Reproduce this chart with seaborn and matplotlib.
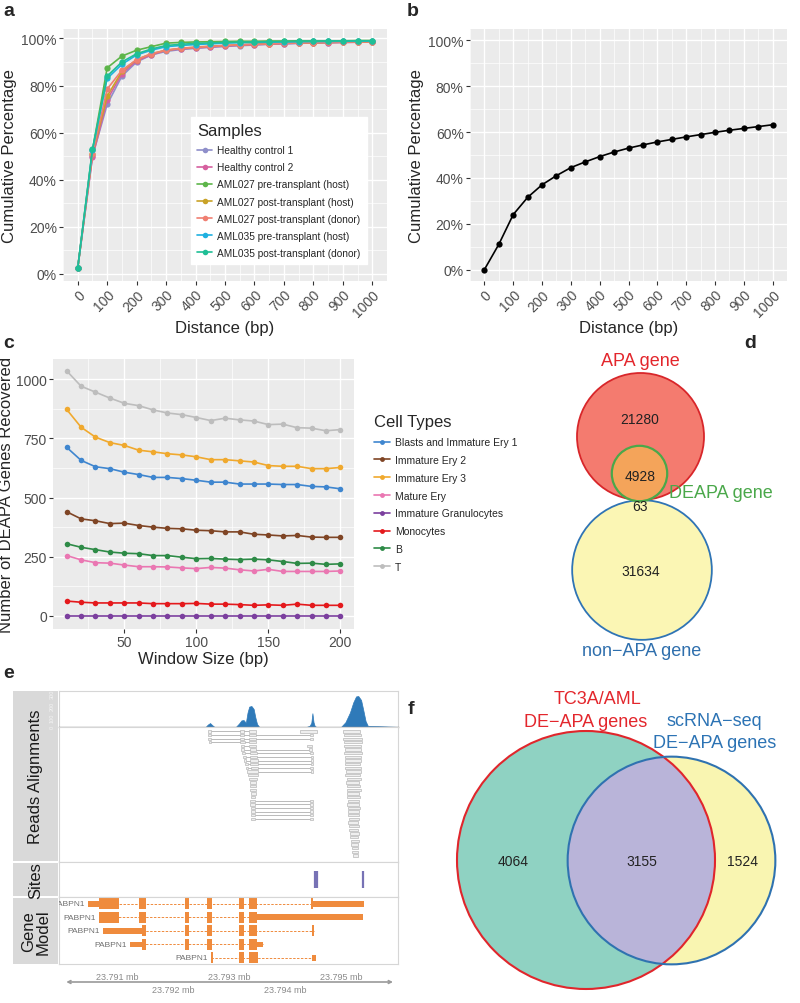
import numpy as np
import pandas as pd
import seaborn as sns
import matplotlib.pyplot as plt
from matplotlib.patches import Circle, Rectangle
from matplotlib.lines import Line2D
from matplotlib.ticker import MultipleLocator

sns.set_theme(style='darkgrid', rc={'axes.facecolor': '#EBEBEB', 'grid.color': 'white'})
plt.rcParams['font.family'] = ['Liberation Sans', 'DejaVu Sans']

# ---------------- data ----------------
# a: cumulative percentage of sites vs distance, per sample
distance = [0, 50, 100, 150, 200, 250, 300, 350, 400, 450, 500,
            550, 600, 650, 700, 750, 800, 850, 900, 950, 1000]
samples = ['Healthy control 1', 'Healthy control 2', 'AML027 pre-transplant (host)',
           'AML027 post-transplant (host)', 'AML027 post-transplant (donor)',
           'AML035 pre-transplant (host)', 'AML035 post-transplant (donor)']
sample_colors = ['#8f8fca', '#d6609f', '#5db54a', '#c9a227', '#f07f72', '#1fb0e0', '#1fbf96']
cum_hc1 = [2.5, 50, 72, 84, 90, 93, 94.5, 95.3, 95.8, 96.2, 96.6, 96.9, 97.2, 97.5, 97.7, 97.9, 98.1, 98.2, 98.3, 98.4, 98.5]
cum_hc2 = [2.5, 49.5, 74, 85, 90.5, 93, 95, 95.5, 96, 96.4, 96.8, 97.1, 97.4, 97.6, 97.8, 98, 98.1, 98.2, 98.3, 98.4, 98.5]
cum_027_pre = [2.5, 52.5, 87.5, 92.5, 95, 96.5, 98, 98.3, 98.5, 98.6, 98.7, 98.8, 98.8, 98.9, 98.9, 99, 99, 99, 99, 99.1, 99.1]
cum_027_post_host = [2.5, 51, 75.5, 86, 91, 93.5, 95, 95.8, 96.3, 96.7, 97, 97.3, 97.6, 97.8, 98, 98.1, 98.2, 98.3, 98.4, 98.5, 98.6]
cum_027_post_donor = [2.5, 51, 78.5, 86.5, 91, 93.5, 95, 95.8, 96.2, 96.6, 97, 97.3, 97.5, 97.7, 97.9, 98.1, 98.2, 98.3, 98.4, 98.5, 98.6]
cum_035_pre = [2.5, 52.5, 83, 89, 93, 95, 96.5, 97, 97.4, 97.7, 98, 98.2, 98.3, 98.4, 98.5, 98.6, 98.7, 98.7, 98.8, 98.8, 98.9]
cum_035_post = [2.5, 53, 84, 90, 93.5, 95.5, 97, 97.5, 97.9, 98.1, 98.3, 98.4, 98.5, 98.6, 98.7, 98.8, 98.8, 98.9, 98.9, 99, 99]

# b: one curve
cum_b = [0, 11, 24, 31.5, 37, 41, 44.5, 47, 49.3, 51.3, 53, 54.4, 55.7, 56.8, 57.9, 58.9, 59.9, 60.8, 61.6, 62.4, 63.2]

# c: DEAPA genes recovered vs window size
window = [10, 20, 30, 40, 50, 60, 70, 80, 90, 100, 110, 120, 130, 140, 150, 160, 170, 180, 190, 200]
cell_types = ['Blasts and Immature Ery 1', 'Immature Ery 2', 'Immature Ery 3', 'Mature Ery',
              'Immature Granulocytes', 'Monocytes', 'B', 'T']
cell_colors = ['#3f86cf', '#7f4525', '#f0a92e', '#ea77b2', '#7b3f9e', '#e4191c', '#2e8b47', '#bdbdbd']
n_blasts = [712, 657, 630, 622, 607, 597, 585, 585, 580, 573, 565, 565, 557, 557, 557, 555, 555, 547, 545, 537]
n_ery2 = [440, 410, 402, 390, 392, 382, 375, 370, 368, 362, 360, 355, 355, 345, 342, 338, 340, 333, 332, 332]
n_ery3 = [872, 797, 755, 732, 720, 700, 693, 685, 680, 672, 660, 660, 655, 650, 635, 632, 632, 622, 622, 627]
n_mature = [255, 237, 225, 223, 215, 208, 208, 207, 203, 200, 205, 202, 195, 190, 197, 188, 188, 188, 188, 190]
n_gran = [0, 0, 0, 0, 0, 0, 0, 0, 0, 0, 0, 0, 0, 0, 0, 0, 0, 0, 0, 0]
n_mono = [63, 58, 55, 55, 55, 55, 52, 52, 52, 53, 50, 50, 48, 45, 47, 45, 50, 45, 45, 45]
n_b = [305, 290, 280, 270, 265, 263, 255, 255, 248, 242, 243, 240, 238, 240, 237, 230, 222, 223, 218, 220]
n_t = [1035, 970, 945, 920, 898, 888, 870, 857, 850, 838, 825, 835, 828, 823, 808, 810, 795, 793, 782, 787]

# d: venn counts
apa_only, deapa_apa, deapa_non, non_only = 21280, 4928, 63, 31634

# e: gene track (positions in kb after 23,790 kb)
genome_ticks_kb = [1, 2, 3, 4, 5]
coverage_kb = [0.0, 2.58, 2.62, 2.66, 2.70, 2.74, 3.12, 3.18, 3.22, 3.26, 3.30, 3.33, 3.36,
               3.40, 3.44, 3.47, 3.50, 3.54, 4.38, 4.44, 4.47, 4.49, 4.51, 4.53, 4.56,
               5.00, 5.08, 5.16, 5.22, 5.27, 5.31, 5.36, 5.40, 5.44, 5.48, 6.1]
coverage_depth = [0, 0, 20, 33, 15, 0, 0, 30, 55, 58, 35, 120, 170, 175, 150, 80, 25, 0,
                  0, 10, 35, 115, 40, 10, 0,
                  0, 40, 120, 205, 255, 258, 225, 140, 50, 10, 0]
spliced_reads = [
    (0, [(2.62, 2.68), (3.20, 3.27), (3.36, 3.48)]),
    (0, [(4.27, 4.57)]),
    (1, [(2.62, 2.68), (3.20, 3.27), (3.36, 3.48), (4.45, 4.50)]),
    (2, [(2.62, 2.68), (3.20, 3.27), (3.36, 3.48), (4.45, 4.50)]),
    (3, [(2.64, 2.68), (3.20, 3.28), (3.36, 3.48)]),
    (4, [(3.21, 3.27), (3.36, 3.49)]),
    (4, [(4.40, 4.48)]),
    (5, [(3.21, 3.27), (3.37, 3.49), (4.43, 4.49)]),
    (6, [(3.23, 3.29), (3.37, 3.50), (4.45, 4.50)]),
    (7, [(3.25, 3.30), (3.38, 3.50), (4.46, 4.50)]),
    (8, [(3.27, 3.31), (3.38, 3.51), (4.46, 4.50)]),
    (9, [(3.29, 3.33), (3.38, 3.51), (4.46, 4.50)]),
    (10, [(3.30, 3.34), (3.39, 3.51), (4.45, 4.50)]),
    (11, [(3.32, 3.51), (4.46, 4.50)]),
    (12, [(3.34, 3.51)]),
    (13, [(3.36, 3.50)]),
    (14, [(3.37, 3.49)]),
    (15, [(3.38, 3.49)]),
    (16, [(3.38, 3.48)]),
    (17, [(3.39, 3.48)]),
    (18, [(3.39, 3.47)]),
    (19, [(3.38, 3.47), (4.44, 4.50)]),
    (20, [(3.38, 3.47), (4.44, 4.50)]),
    (21, [(3.39, 3.47), (4.44, 4.50)]),
    (22, [(3.39, 3.47), (4.44, 4.50)]),
    (23, [(3.39, 3.47), (4.44, 4.50)]),
    (24, [(3.40, 3.47), (4.45, 4.50)]),
]
right_read_start = [5.04, 5.05, 5.04, 5.06, 5.05, 5.07, 5.06, 5.07, 5.08, 5.07, 5.08, 5.09,
                    5.08, 5.10, 5.09, 5.10, 5.11, 5.10, 5.11, 5.12, 5.11, 5.12, 5.13, 5.12,
                    5.14, 5.13, 5.15, 5.14, 5.16, 5.17, 5.18, 5.18, 5.19, 5.20, 5.21]
right_read_end = [5.34, 5.36, 5.38, 5.37, 5.36, 5.35, 5.37, 5.36, 5.35, 5.34, 5.36, 5.35,
                  5.34, 5.35, 5.33, 5.34, 5.35, 5.33, 5.34, 5.33, 5.32, 5.34, 5.33, 5.32,
                  5.33, 5.31, 5.32, 5.31, 5.32, 5.31, 5.32, 5.30, 5.31, 5.31, 5.30]
site_kb = [4.53, 4.57, 5.39]
# (transcript row, start, end, thick exon?)
exons = [
    (0, 0.48, 0.68, False), (0, 0.68, 1.04, True), (0, 1.39, 1.52, True), (0, 2.21, 2.29, True),
    (0, 2.61, 2.70, True), (0, 3.18, 3.27, True), (0, 3.36, 3.50, True), (0, 4.47, 4.50, True),
    (0, 4.50, 5.41, False),
    (1, 0.68, 1.04, True), (1, 1.39, 1.52, True), (1, 2.21, 2.29, True), (1, 2.61, 2.70, True),
    (1, 3.18, 3.27, True), (1, 3.36, 3.50, True), (1, 3.50, 5.39, False),
    (2, 0.75, 1.45, False), (2, 1.45, 1.52, True), (2, 2.21, 2.29, True), (2, 2.61, 2.70, True),
    (2, 3.18, 3.27, True), (2, 3.36, 3.50, True), (2, 4.48, 4.52, True),
    (3, 1.23, 1.45, False), (3, 1.45, 1.52, True), (3, 2.21, 2.29, True), (3, 2.61, 2.70, True),
    (3, 3.18, 3.27, True), (3, 3.36, 3.50, True), (3, 3.50, 3.61, False),
    (4, 2.68, 2.71, True), (4, 3.18, 3.27, True), (4, 3.36, 3.52, True), (4, 4.48, 4.55, False),
]
transcript_names = ['PABPN1', 'PABPN1', 'PABPN1', 'PABPN1', 'PABPN1']

# f: venn counts
tc3a_only, both, sc_only = 4064, 3155, 1524

# ---------------- figure ----------------
W, H = 800, 1004
fig = plt.figure(figsize=(8, 10.04), dpi=100)


def box(x0, y0, x1, y1):
    return [x0 / W, 1 - y1 / H, (x1 - x0) / W, (y1 - y0) / H]


def gg_style(ax, xmaj, xmin, ymaj, ymin, tsize=10):
    ax.xaxis.set_major_locator(MultipleLocator(xmaj))
    ax.xaxis.set_minor_locator(MultipleLocator(xmin))
    ax.yaxis.set_major_locator(MultipleLocator(ymaj))
    ax.yaxis.set_minor_locator(MultipleLocator(ymin))
    ax.grid(which='major', color='white', lw=1.0)
    ax.grid(which='minor', color='white', lw=0.5)
    ax.tick_params(which='major', length=3, width=0.8, color='#333333',
                   labelcolor='#4d4d4d', labelsize=tsize, pad=1.5, bottom=True, left=True)
    ax.tick_params(which='minor', length=0)
    for s in ax.spines.values():
        s.set_visible(False)


# panel a
ax = fig.add_axes(box(63, 30, 387, 282))
df_a = pd.DataFrame({
    'Distance': distance * 7,
    'Pct': cum_hc1 + cum_hc2 + cum_027_pre + cum_027_post_host + cum_027_post_donor + cum_035_pre + cum_035_post,
    'Sample': np.repeat(samples, len(distance)),
})
sns.lineplot(data=df_a, x='Distance', y='Pct', hue='Sample', hue_order=samples,
             palette=sample_colors, marker='o', markersize=4.5, markeredgewidth=0,
             linewidth=1.2, legend=False, ax=ax)
ax.set_xlim(-50, 1050)
ax.set_ylim(-3, 104)
gg_style(ax, 100, 50, 20, 10)
ax.set_yticks([0, 20, 40, 60, 80, 100])
ax.set_yticklabels([f'{v}%' for v in [0, 20, 40, 60, 80, 100]])
plt.setp(ax.get_xticklabels(), rotation=45, ha='right', rotation_mode='anchor')
ax.set_xlabel('Distance (bp)', fontsize=12, labelpad=1)
ax.set_ylabel('Cumulative Percentage', fontsize=12, labelpad=3)
handles = [Line2D([], [], color=c, marker='o', markersize=4, lw=1.2, markeredgewidth=0) for c in sample_colors]
ax.legend(handles, samples, title='Samples', loc='lower left',
          bbox_to_anchor=(186 / W, 1 - 270 / H), bbox_transform=fig.transFigure,
          frameon=True, facecolor='white', edgecolor='white', fancybox=False, framealpha=1,
          fontsize=7.3, title_fontsize=12, alignment='left', borderpad=0.6,
          labelspacing=0.7, handlelength=1.5, handletextpad=0.5)

# panel b
ax = fig.add_axes(box(470, 30, 787, 282))
sns.lineplot(x=distance, y=cum_b, color='black', marker='o', markersize=4.5,
             markeredgewidth=0, linewidth=1.2, ax=ax)
ax.set_xlim(-50, 1050)
ax.set_ylim(-5, 105)
gg_style(ax, 100, 50, 20, 10)
ax.set_yticks([0, 20, 40, 60, 80, 100])
ax.set_yticklabels([f'{v}%' for v in [0, 20, 40, 60, 80, 100]])
plt.setp(ax.get_xticklabels(), rotation=45, ha='right', rotation_mode='anchor')
ax.set_xlabel('Distance (bp)', fontsize=12, labelpad=1)
ax.set_ylabel('Cumulative Percentage', fontsize=12, labelpad=3)

# panel c
ax = fig.add_axes(box(53, 360, 354, 630))
df_c = pd.DataFrame({
    'Window': window * 8,
    'N': n_blasts + n_ery2 + n_ery3 + n_mature + n_gran + n_mono + n_b + n_t,
    'Cell': np.repeat(cell_types, len(window)),
})
sns.lineplot(data=df_c, x='Window', y='N', hue='Cell', hue_order=cell_types,
             palette=cell_colors, marker='o', markersize=4, markeredgewidth=0,
             linewidth=1.2, legend=False, ax=ax)
ax.set_xlim(0.5, 209.5)
ax.set_ylim(-55, 1085)
gg_style(ax, 50, 25, 250, 125, tsize=10)
ax.set_xlabel('Window Size (bp)', fontsize=12, labelpad=1)
ax.set_ylabel('Number of DEAPA Genes Recovered', fontsize=12, labelpad=1)
handles = [Line2D([], [], color=c, marker='o', markersize=3.5, lw=1.2, markeredgewidth=0) for c in cell_colors]
ax.legend(handles, cell_types, title='Cell Types', loc='upper left',
          bbox_to_anchor=(365 / W, 1 - 406 / H), bbox_transform=fig.transFigure,
          frameon=False, fontsize=7.5, title_fontsize=12, alignment='left',
          labelspacing=0.75, handlelength=1.5, handletextpad=0.5)

# panel d venn
ax = fig.add_axes(box(560, 330, 800, 700))
ax.set_xlim(560, 800)
ax.set_ylim(700, 330)
ax.axis('off')
k_d = 63.5 / np.sqrt(apa_only + deapa_apa)
r_apa = k_d * np.sqrt(apa_only + deapa_apa)
r_de = k_d * np.sqrt(deapa_apa + deapa_non)
r_non = k_d * np.sqrt(non_only + deapa_non)
ax.add_patch(Circle((640.5, 437.5), r_apa, fc='#f47b6f', ec='#d8262a', lw=1.3))
ax.add_patch(Circle((642, 571), r_non, fc='#fbf6b4', ec='#2f74b5', lw=1.3))
ax.add_patch(Circle((639.5, 474.5), r_de, fc='#f4a45a', ec='#4aa84a', lw=1.6))
ax.text(640, 362, 'APA gene', color='#e3262c', fontsize=13, ha='center', va='center')
ax.text(640, 420, f'{apa_only}', fontsize=10, ha='center', va='center', color='#222')
ax.text(640, 477, f'{deapa_apa}', fontsize=10, ha='center', va='center', color='#222')
ax.text(669, 494, 'DEAPA gene', color='#4aa84a', fontsize=13, ha='left', va='center')
ax.text(640, 507, f'{deapa_non}', fontsize=10, ha='center', va='center', color='#222')
ax.text(641, 572, f'{non_only}', fontsize=10, ha='center', va='center', color='#222')
ax.text(642, 652, 'non\u2212APA gene', color='#2f6fad', fontsize=13, ha='center', va='center')

# panel e gene track
XL = (-0.04, 6.02)
ax_cov = fig.add_axes(box(59, 692, 398, 728))
ax_cov.fill_between(coverage_kb, coverage_depth, color='#2f7ab9', lw=0.5)
ax_cov.set_xlim(XL)
ax_cov.set_ylim(0, 300)
ax_cov.set_facecolor('white')
ax_cov.grid(False)
ax_cov.set_xticks([])
ax_cov.set_yticks([0, 100, 200, 300])
ax_cov.set_yticklabels(['0', '100', '200', '300'])
ax_cov.tick_params(axis='y', labelsize=4, labelcolor='#f4f4f4', length=0, pad=3, labelrotation=90)

ax_aln = fig.add_axes(box(59, 728, 398, 863))
for row, blocks in spliced_reads:
    if len(blocks) > 1:
        ax_aln.hlines(row, blocks[0][1], blocks[-1][0], color='#a0a0a0', lw=0.5, zorder=1)
    for s, e in blocks:
        ax_aln.add_patch(Rectangle((s, row - 0.32), e - s, 0.64, fc='#efefef', ec='#a8a8a8', lw=0.4, zorder=2))
for row, (s, e) in enumerate(zip(right_read_start, right_read_end)):
    ax_aln.add_patch(Rectangle((s, row - 0.32), e - s, 0.64, fc='#efefef', ec='#a8a8a8', lw=0.4, zorder=2))
ax_aln.set_xlim(XL)
ax_aln.set_ylim(35.8, -1.2)
ax_aln.set_facecolor('white')
ax_aln.grid(False)
ax_aln.set_xticks([])
ax_aln.set_yticks([])

ax_site = fig.add_axes(box(59, 863, 398, 898))
ax_site.vlines(site_kb, 0.26, 0.74, color='#7772b5', lw=1.6)
ax_site.set_xlim(XL)
ax_site.set_ylim(0, 1)
ax_site.set_facecolor('white')
ax_site.grid(False)
ax_site.set_xticks([])
ax_site.set_yticks([])

ax_gene = fig.add_axes(box(59, 898, 398, 965))
orange = '#ef8b3d'
for row, name in enumerate(transcript_names):
    tx = [(s, e) for r, s, e, t in exons if r == row]
    start = min(s for s, e in tx)
    end = max(e for s, e in tx)
    ax_gene.hlines(row, start, end, color=orange, lw=0.7, linestyles=(0, (2.5, 1.5)), zorder=1)
    ax_gene.text(start - 0.06, row, name, ha='right', va='center', fontsize=6,
                 color='#6f6f6f', clip_on=True)
for row, s, e, thick in exons:
    h = 0.82 if thick else 0.42
    ax_gene.add_patch(Rectangle((s, row - h / 2), e - s, h, fc=orange, ec='none', zorder=2))
ax_gene.set_xlim(XL)
ax_gene.set_ylim(4.45, -0.5)
ax_gene.set_facecolor('white')
ax_gene.grid(False)
ax_gene.set_xticks([])
ax_gene.set_yticks([])

for a in (ax_cov, ax_aln, ax_site, ax_gene):
    for s in a.spines.values():
        s.set_color('#d6d6d6')
        s.set_linewidth(0.8)
ax_cov.spines['bottom'].set_color('#8c8c8c')
ax_cov.spines['bottom'].set_linewidth(1.0)

ax_gx = fig.add_axes(box(59, 966, 398, 1000))
ax_gx.set_xlim(XL)
ax_gx.set_ylim(1, 0)
ax_gx.axis('off')
ax_gx.annotate('', xy=(5.98, 0.5), xytext=(0.04, 0.5),
               arrowprops=dict(arrowstyle='<->', color='#9a9a9a', lw=1.2, mutation_scale=5))
for i, kb in enumerate(genome_ticks_kb):
    y = 0.35 if i % 2 == 0 else 0.72
    ax_gx.text(kb, y, f'{23.790 + kb / 1000:.3f} mb', ha='center', va='center',
               fontsize=6.5, color='#8a8a8a')

# strip labels for e
strips = [(692, 862, 'Reads Alignments'), (864, 897, 'Sites'), (899, 965, 'Gene\nModel')]
for y0, y1, lab in strips:
    fig.add_artist(Rectangle((13 / W, 1 - y1 / H), 45 / W, (y1 - y0) / H,
                             transform=fig.transFigure, fc='#d9d9d9', ec='none', zorder=0))
    fig.text(36 / W, 1 - (y0 + y1) / 2 / H, lab, rotation=90, ha='center', va='center',
             fontsize=12, color='#1a1a1a', linespacing=1.0)

# panel f venn
ax = fig.add_axes(box(400, 690, 800, 1004))
ax.set_xlim(400, 800)
ax.set_ylim(1004, 690)
ax.axis('off')
k_f = 129 / np.sqrt(tc3a_only + both)
r_tc = k_f * np.sqrt(tc3a_only + both)
r_sc = k_f * np.sqrt(both + sc_only)
c_tc, c_sc = (586, 861), (671.5, 861.5)
ax.add_patch(Circle(c_sc, r_sc, fc='#f9f5b1', ec='none'))
tc_fill = Circle(c_tc, r_tc, fc='#8fd2c2', ec='none')
ax.add_patch(tc_fill)
inter = Circle(c_sc, r_sc, fc='#b9b4d9', ec='none')
ax.add_patch(inter)
inter.set_clip_path(tc_fill)
ax.add_patch(Circle(c_tc, r_tc, fc='none', ec='#e0262c', lw=1.5))
ax.add_patch(Circle(c_sc, r_sc, fc='none', ec='#2f72b0', lw=1.5))
ax.text(598, 700, 'TC3A/AML', color='#e3262c', fontsize=13, ha='center', va='center')
ax.text(586, 723, 'DE\u2212APA genes', color='#e3262c', fontsize=13, ha='center', va='center')
ax.text(714, 722, 'scRNA\u2212seq', color='#2c73b4', fontsize=13, ha='center', va='center')
ax.text(715, 744, 'DE\u2212APA genes', color='#2c73b4', fontsize=13, ha='center', va='center')
ax.text(513, 862, f'{tc3a_only}', fontsize=10, ha='center', va='center', color='#222')
ax.text(642, 862, f'{both}', fontsize=10, ha='center', va='center', color='#222')
ax.text(743, 862, f'{sc_only}', fontsize=10, ha='center', va='center', color='#222')

# panel letters
for lab, x, y in [('a', 3, 12), ('b', 407, 12), ('c', 3, 344), ('d', 744, 344),
                  ('e', 3, 674), ('f', 408, 710)]:
    fig.text(x / W, 1 - y / H, lab, fontsize=14, fontweight='bold', ha='left', va='center')

fig.savefig('out.png', dpi=100)
